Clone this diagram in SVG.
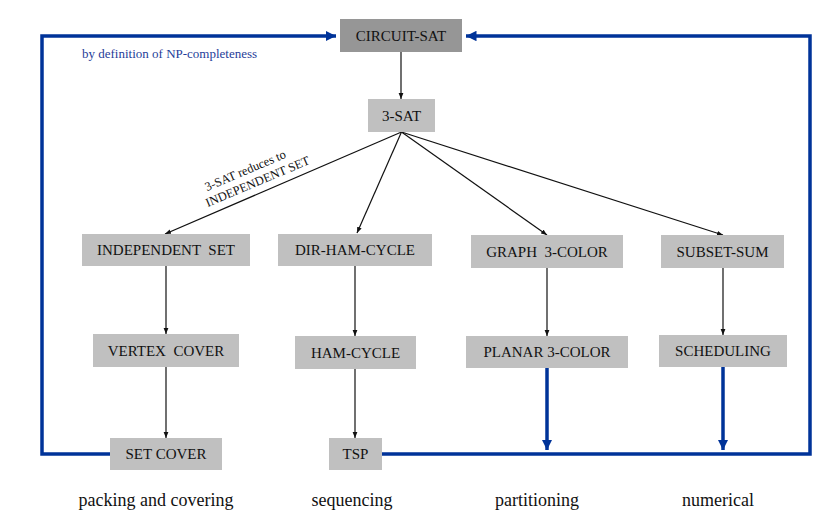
<svg xmlns="http://www.w3.org/2000/svg" width="833" height="520" viewBox="0 0 833 520">
<style>
.f{font-family:"Liberation Serif","Times New Roman","DejaVu Serif",serif}
.n rect{fill:#c0c0c0}
.n text{font-family:"Liberation Serif","Times New Roman","DejaVu Serif",serif;font-size:15px;fill:#111;text-anchor:middle}
.k{stroke:#111;stroke-width:1.2;fill:none}
.b{stroke:#003399;stroke-width:3.5;fill:none}
.lab{font-family:"Liberation Serif","Times New Roman","DejaVu Serif",serif;font-size:18px;fill:#111;text-anchor:middle}
</style>
<defs>
<marker id="ak" viewBox="0 0 10 10" refX="10" refY="5" markerWidth="6" markerHeight="6" markerUnits="userSpaceOnUse" orient="auto"><path d="M0,1L10,5L0,9z" fill="#111"/></marker>
<marker id="ab" viewBox="0 0 10 10" refX="10" refY="5" markerWidth="3" markerHeight="3" orient="auto"><path d="M0,0L10,5L0,10z" fill="#003399"/></marker>
</defs>
<rect width="833" height="520" fill="#fff"/>
<g id="connectors">
<path class="b" d="M110,454H42V36H336" marker-end="url(#ab)"/>
<path class="b" d="M382,454H810V36H466" marker-end="url(#ab)"/>
<path class="b" d="M547,368V450" marker-end="url(#ab)"/>
<path class="b" d="M723,367V450" marker-end="url(#ab)"/>
<path class="k" d="M401,52V99" marker-end="url(#ak)"/>
<path class="k" d="M401.5,132L165,234" marker-end="url(#ak)"/>
<path class="k" d="M401.5,132L357,233" marker-end="url(#ak)"/>
<path class="k" d="M401.5,132L547,235" marker-end="url(#ak)"/>
<path class="k" d="M401.5,132L723,235" marker-end="url(#ak)"/>
<path class="k" d="M166,266V334" marker-end="url(#ak)"/>
<path class="k" d="M166,367V438" marker-end="url(#ak)"/>
<path class="k" d="M355,266V336" marker-end="url(#ak)"/>
<path class="k" d="M355,369V438" marker-end="url(#ak)"/>
<path class="k" d="M547,268V336" marker-end="url(#ak)"/>
<path class="k" d="M723,268V335" marker-end="url(#ak)"/>
<g class="f" transform="rotate(-23 258 175)" font-size="12.5" fill="#111" text-anchor="middle">
<text x="248" y="170">3-SAT reduces to</text>
<text x="255" y="185">INDEPENDENT SET</text>
</g>
</g>
<text class="f" x="82" y="58" font-size="13" fill="#1f3d99">by definition of NP-completeness</text>
<g id="circuit-sat" class="n"><rect x="340" y="19" width="122" height="33" style="fill:#969696"/><text x="401" y="41">CIRCUIT-SAT</text></g>
<g id="3-sat" class="n"><rect x="368" y="99" width="67" height="33"/><text x="401.5" y="121">3-SAT</text></g>
<g id="independent-set" class="n"><rect x="82" y="234" width="168" height="32"/><text x="166" y="255" xml:space="preserve">INDEPENDENT  SET</text></g>
<g id="dir-ham-cycle" class="n"><rect x="278" y="234" width="154" height="32"/><text x="355" y="255">DIR-HAM-CYCLE</text></g>
<g id="graph-3-color" class="n"><rect x="471" y="235" width="152" height="33"/><text x="547" y="257" xml:space="preserve">GRAPH  3-COLOR</text></g>
<g id="subset-sum" class="n"><rect x="661" y="235" width="123" height="33"/><text x="722.5" y="257">SUBSET-SUM</text></g>
<g id="vertex-cover" class="n"><rect x="93" y="334" width="146" height="33"/><text x="166" y="356" xml:space="preserve">VERTEX  COVER</text></g>
<g id="ham-cycle" class="n"><rect x="295" y="336" width="121" height="33"/><text x="355.5" y="358">HAM-CYCLE</text></g>
<g id="planar-3-color" class="n"><rect x="466" y="336" width="162" height="32"/><text x="547" y="357">PLANAR 3-COLOR</text></g>
<g id="scheduling" class="n"><rect x="659" y="335" width="128" height="32"/><text x="723" y="356">SCHEDULING</text></g>
<g id="set-cover" class="n"><rect x="110" y="438" width="112" height="32"/><text x="166" y="459">SET COVER</text></g>
<g id="tsp" class="n"><rect x="329" y="438" width="53" height="32"/><text x="355.5" y="459">TSP</text></g>
<text class="lab" x="156" y="506">packing and covering</text>
<text class="lab" x="352" y="506">sequencing</text>
<text class="lab" x="537" y="506">partitioning</text>
<text class="lab" x="718" y="506">numerical</text>
</svg>
